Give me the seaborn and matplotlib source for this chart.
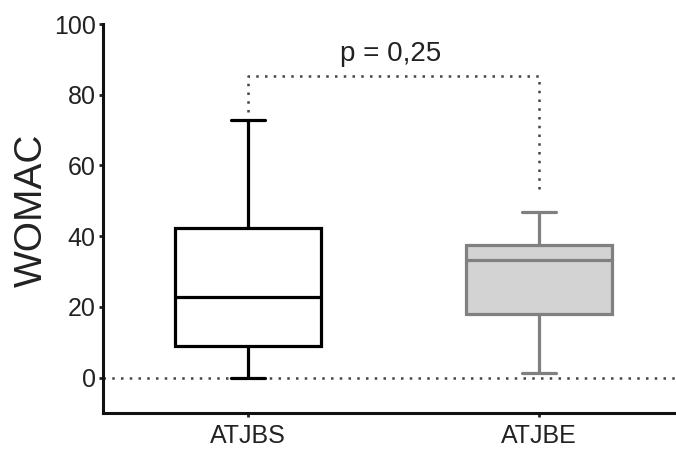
import matplotlib
matplotlib.use("Agg")
import matplotlib.pyplot as plt
import seaborn as sns
import pandas as pd

# Data (five-number summaries: min, Q1, median, Q3, max)
groups = ["ATJBS", "ATJBE"]
atjbs_values = [0.0, 8.9, 22.9, 42.3, 72.8]
atjbe_values = [1.2, 17.9, 33.4, 37.4, 46.7]
y_ticks = [0, 20, 40, 60, 80, 100]
p_label = "p = 0,25"
bracket_top = 85.4
bracket_left_end = 75.0
bracket_right_end = 51.8

sns.set_theme(style="white")
plt.rcParams["font.family"] = ["Liberation Sans", "DejaVu Sans"]
text_color = "#222222"

df = pd.DataFrame({
    "group": ["ATJBS"] * len(atjbs_values) + ["ATJBE"] * len(atjbe_values),
    "WOMAC": atjbs_values + atjbe_values,
})

fig = plt.figure(figsize=(6.76, 4.51), dpi=100)
ax = fig.add_axes([102.5 / 676, 38 / 451, 1 - 102.5 / 676, 389 / 451])

styles = {
    "ATJBS": dict(color="white", linecolor="black"),
    "ATJBE": dict(color="#d3d3d3", linecolor="#808080"),
}
for g in groups:
    sns.boxplot(
        data=df[df["group"] == g], x="group", y="WOMAC", order=groups,
        ax=ax, width=0.5, whis=(0, 100), saturation=1,
        linewidth=2.3, capwidths=0.117, showfliers=False,
        **styles[g],
    )

ax.set_xlim(-0.5, 1.47)
ax.set_ylim(-10, 100)

# zero reference line
ax.axhline(0, color="#444444", lw=1.8, ls=(0, (1, 2.5)), zorder=0.5)

# significance bracket
ax.plot([0, 0, 1, 1], [bracket_left_end, bracket_top, bracket_top, bracket_right_end],
        color="#444444", lw=1.8, ls=(0, (1, 2.5)), clip_on=False)
ax.text(0.49, 89.5, p_label, ha="center", va="baseline", fontsize=20, color=text_color)

ax.set_yticks(y_ticks)
ax.set_xlabel("")
ax.set_ylabel("WOMAC", fontsize=28, color=text_color, va="center")
ax.yaxis.set_label_coords(-0.123, 0.52)
ax.tick_params(axis="both", labelsize=18, colors=text_color, length=3, width=2,
               direction="out", pad=2)
ax.tick_params(axis="x", pad=5)
ax.tick_params(axis="y", left=True)
ax.tick_params(axis="x", bottom=True)

for side in ["top", "right"]:
    ax.spines[side].set_visible(False)
for side in ["left", "bottom"]:
    ax.spines[side].set_linewidth(2.2)
    ax.spines[side].set_color("#111111")

fig.savefig("out.png", dpi=100)
